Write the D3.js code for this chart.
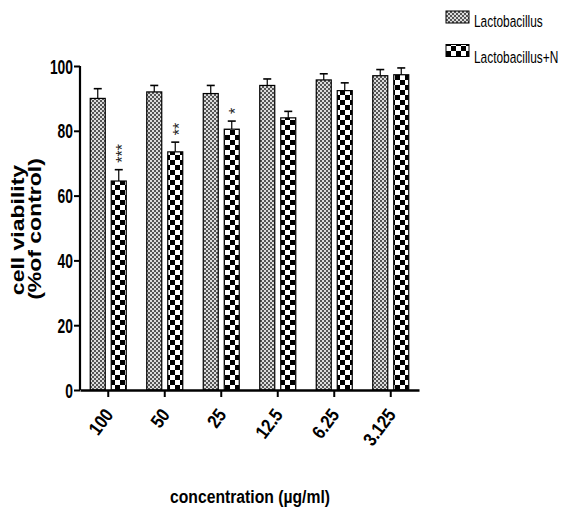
<!DOCTYPE html>
<html>
<head>
<meta charset="utf-8">
<script src="https://cdn.jsdelivr.net/npm/d3@7"></script>
<style>
  body { margin: 0; background: #fff; }
  svg { display: block; }
</style>
</head>
<body>
<div id="chart"></div>
<script>
const categories = ['100', '50', '25', '12.5', '6.25', '3.125'];
const seriesNames = ['Lactobacillus', 'Lactobacillus+N'];
const lactoValues = [90, 92, 91.5, 94, 95.7, 97];
const lactoErrors = [3, 2, 2.5, 2, 1.9, 1.9];
const lactoNValues = [64.5, 73.5, 80.5, 84, 92.4, 97.3];
const lactoNErrors = [3.5, 3, 2.5, 2, 2.4, 2.1];
const stars = ['***', '**', '*', '', '', ''];
const yTicks = [0, 20, 40, 60, 80, 100];

const width = 564, height = 512;
const margin = {top: 66, left: 80, right: 145, bottom: 122};
const font = 'Liberation Sans, Arial, sans-serif';
const squeeze = 0.71;

const svg = d3.select('#chart').append('svg')
    .attr('width', width)
    .attr('height', height);

// fill patterns
const defs = svg.append('defs');
const fine = defs.append('pattern')
    .attr('id', 'fine')
    .attr('patternUnits', 'userSpaceOnUse')
    .attr('width', 4).attr('height', 4);
fine.append('rect').attr('width', 4).attr('height', 4).attr('fill', '#dcdcdc');
fine.append('rect').attr('width', 2).attr('height', 2).attr('fill', '#555');
fine.append('rect').attr('x', 2).attr('y', 2).attr('width', 2).attr('height', 2).attr('fill', '#555');

const coarse = defs.append('pattern')
    .attr('id', 'coarse')
    .attr('patternUnits', 'userSpaceOnUse')
    .attr('width', 10).attr('height', 10);
coarse.append('rect').attr('width', 10).attr('height', 10).attr('fill', '#fff');
coarse.append('rect').attr('width', 5).attr('height', 5).attr('fill', '#000');
coarse.append('rect').attr('x', 5).attr('y', 5).attr('width', 5).attr('height', 5).attr('fill', '#000');

const x = d3.scaleBand()
    .domain(categories)
    .range([margin.left, width - margin.right]);

const y = d3.scaleLinear()
    .domain([0, 100])
    .range([height - margin.bottom, margin.top]);

const barW = 15, gap = 6;

const series = [
  {name: seriesNames[0], values: lactoValues, errors: lactoErrors, fill: 'url(#fine)', offset: -(gap / 2 + barW)},
  {name: seriesNames[1], values: lactoNValues, errors: lactoNErrors, fill: 'url(#coarse)', offset: gap / 2}
];

series.forEach(s => {
  const g = svg.append('g');
  categories.forEach((c, i) => {
    const bx = x(c) + x.bandwidth() / 2 + s.offset;
    const v = s.values[i], e = s.errors[i];
    // error bar (upper only)
    g.append('line')
        .attr('x1', bx + barW / 2).attr('x2', bx + barW / 2)
        .attr('y1', y(v)).attr('y2', y(v + e))
        .attr('stroke', '#000').attr('stroke-width', 1.2);
    g.append('line')
        .attr('x1', bx + barW / 2 - 4).attr('x2', bx + barW / 2 + 4)
        .attr('y1', y(v + e)).attr('y2', y(v + e))
        .attr('stroke', '#000').attr('stroke-width', 1.6);
    g.append('rect')
        .attr('x', bx).attr('y', y(v))
        .attr('width', barW).attr('height', y(0) - y(v))
        .attr('fill', s.fill)
        .attr('stroke', '#000').attr('stroke-width', 1.2);
  });
});

// significance stars, stacked vertically
const starG = svg.append('g').attr('opacity', 0.99);
categories.forEach((c, i) => {
  if (!stars[i]) return;
  const cx = x(c) + x.bandwidth() / 2 + gap / 2 + barW / 2;
  const bottom = y(lactoNValues[i] + lactoNErrors[i]) - 7;
  starG.append('text')
      .attr('transform', `translate(${cx + 9.5},${bottom}) rotate(-90)`)
      .attr('font-family', font)
      .attr('font-size', 16)
      .attr('fill', '#222')
      .text(stars[i]);
});

// y axis
const yAxis = svg.append('g')
    .attr('transform', `translate(${margin.left},0)`)
    .call(d3.axisLeft(y).tickValues(yTicks).tickSize(6).tickPadding(2));
yAxis.select('.domain').attr('stroke-width', 2.2).attr('d', `M0,${y(0)}V${y(100)}`);
yAxis.selectAll('.tick line').attr('stroke-width', 2);
yAxis.selectAll('.tick text')
    .attr('font-family', font)
    .attr('font-size', 19.5)
    .attr('font-weight', 'bold')
    .attr('fill', '#000')
    .attr('x', -7 / squeeze)
    .attr('dy', '0.36em')
    .attr('transform', `scale(${squeeze},1)`);

// x axis
const xAxis = svg.append('g')
    .attr('transform', `translate(0,${y(0)})`)
    .call(d3.axisBottom(x).tickSize(7).tickSizeOuter(0));
xAxis.select('.domain').attr('stroke-width', 2.4);
xAxis.selectAll('.tick line').attr('stroke-width', 2);
xAxis.selectAll('.tick text')
    .attr('font-family', font)
    .attr('font-size', 19)
    .attr('font-weight', 'bold')
    .attr('fill', '#000')
    .attr('text-anchor', 'end')
    .attr('dy', null)
    .attr('y', 0).attr('x', 0)
    .attr('transform', 'translate(6,25) rotate(-53) scale(0.85,1)');

// axis titles
const titleSqueeze = 0.8;
svg.append('text')
    .attr('transform', `translate(24,230) scale(${titleSqueeze},1) rotate(-90)`)
    .attr('text-anchor', 'middle')
    .attr('font-family', font)
    .attr('font-weight', 'bold')
    .attr('font-size', 23)
    .text('cell viability');
svg.append('text')
    .attr('transform', `translate(41,229) scale(${titleSqueeze},1) rotate(-90)`)
    .attr('text-anchor', 'middle')
    .attr('font-family', font)
    .attr('font-weight', 'bold')
    .attr('font-size', 23)
    .text('(%of control)');

svg.append('text')
    .attr('x', 170).attr('y', 503)
    .attr('font-family', font)
    .attr('font-weight', 'bold')
    .attr('font-size', 18)
    .attr('textLength', 160)
    .attr('lengthAdjust', 'spacingAndGlyphs')
    .text('concentration (\u00b5g/ml)');

// legend
const legend = svg.append('g').attr('transform', 'translate(446,11)');
series.forEach((s, i) => {
  legend.append('rect')
      .attr('x', 0).attr('y', i * 33.5)
      .attr('width', 23).attr('height', 12)
      .attr('fill', s.fill)
      .attr('stroke', '#000').attr('stroke-width', 1);
  legend.append('text')
      .attr('transform', `translate(28,${i * 35.5 + 16}) scale(0.7,1)`)
      .attr('font-family', font)
      .attr('font-size', 17)
      .text(s.name);
});
</script>
</body>
</html>
